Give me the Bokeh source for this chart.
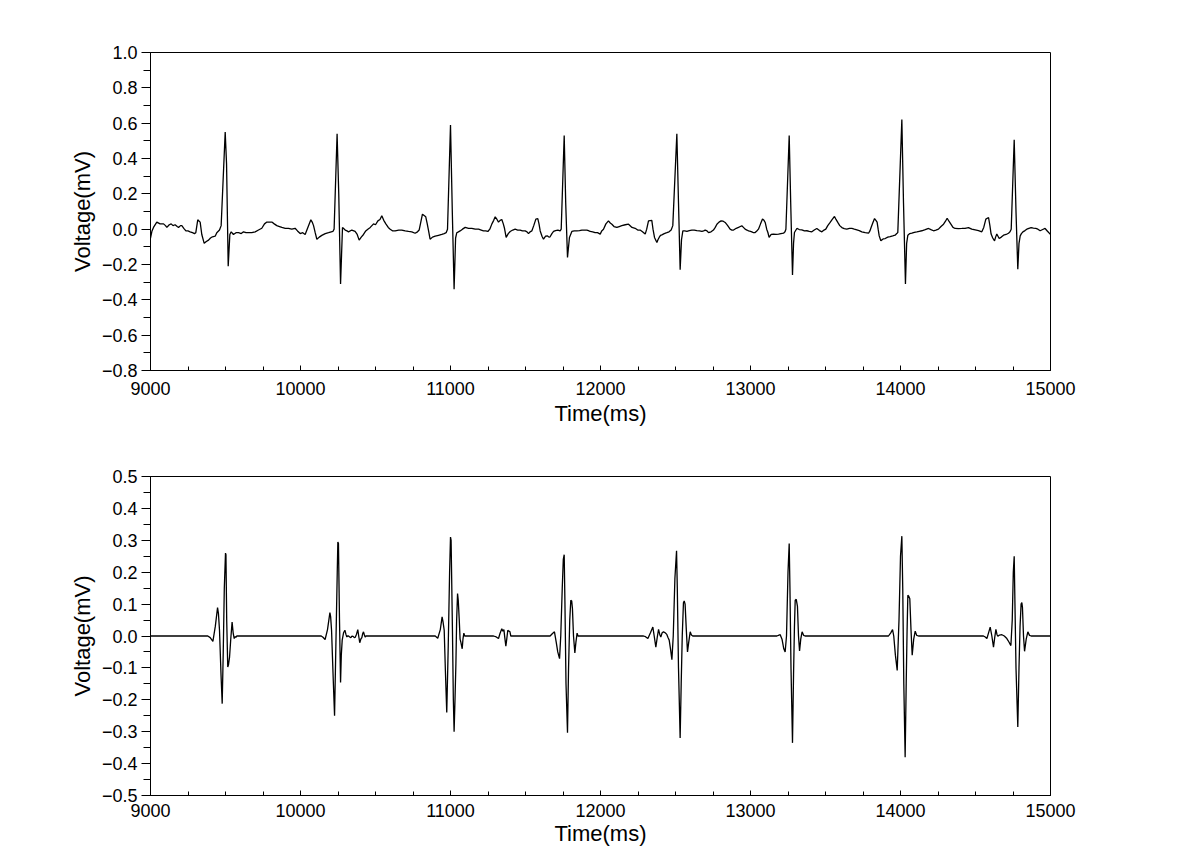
from bokeh.plotting import figure
from bokeh.layouts import column
from bokeh.models import Range1d, FixedTicker, CustomJSTickFormatter
from bokeh.embed import file_html
from bokeh.resources import INLINE

# ---------------- data ----------------
# Top panel: raw ECG, time in ms, voltage in mV
top_time = [
    9000, 9010, 9020, 9042, 9064, 9087, 9100, 9109, 9125, 9138, 9150, 9164, 9178, 9187, 9200, 9209,
    9222, 9236, 9250, 9264, 9280, 9293, 9302, 9315, 9331, 9342, 9358, 9372, 9387, 9400, 9413, 9431,
    9442, 9460, 9471, 9498, 9507, 9518, 9529, 9538, 9553, 9570, 9587, 9605, 9620, 9637, 9653, 9675,
    9698, 9720, 9742, 9760, 9776, 9792, 9809, 9825, 9842, 9860, 9876, 9898, 9920, 9942, 9964, 9980,
    9998, 10015, 10031, 10049, 10069, 10078, 10087, 10098, 10109, 10125, 10142, 10165, 10187, 10205,
    10216, 10224, 10244, 10255, 10267, 10280, 10298, 10310, 10320, 10342, 10364, 10378, 10391, 10405,
    10420, 10435, 10449, 10465, 10487, 10500, 10516, 10530, 10542, 10555, 10569, 10585, 10598, 10615,
    10631, 10655, 10675, 10698, 10720, 10742, 10764, 10780, 10791, 10813, 10835, 10845, 10853, 10864,
    10880, 10898, 10920, 10942, 10958, 10971, 10980, 11000, 11012, 11024, 11034, 11042, 11053, 11064,
    11080, 11098, 11120, 11142, 11165, 11187, 11205, 11220, 11235, 11249, 11262, 11276, 11288, 11298,
    11310, 11320, 11331, 11342, 11352, 11360, 11371, 11385, 11398, 11415, 11431, 11448, 11464, 11480,
    11498, 11510, 11520, 11531, 11542, 11555, 11569, 11582, 11590, 11598, 11610, 11620, 11634, 11647,
    11656, 11664, 11676, 11687, 11700, 11716, 11731, 11738, 11758, 11768, 11780, 11793, 11809, 11825,
    11842, 11860, 11876, 11892, 11909, 11920, 11931, 11948, 11964, 11980, 11998, 12008, 12020, 12036,
    12053, 12065, 12076, 12090, 12109, 12125, 12142, 12165, 12187, 12210, 12231, 12248, 12264, 12280,
    12298, 12308, 12320, 12342, 12350, 12360, 12376, 12383, 12391, 12400, 12409, 12425, 12442, 12457,
    12471, 12482, 12509, 12520, 12531, 12540, 12549, 12562, 12576, 12592, 12609, 12625, 12642, 12660,
    12676, 12688, 12698, 12710, 12720, 12737, 12753, 12765, 12776, 12790, 12804, 12818, 12831, 12848,
    12864, 12876, 12887, 12905, 12920, 12932, 12942, 12953, 12964, 12976, 12987, 13000, 13009, 13020,
    13031, 13042, 13053, 13067, 13080, 13090, 13098, 13108, 13116, 13124, 13138, 13153, 13170, 13187,
    13203, 13220, 13230, 13236, 13258, 13268, 13280, 13287, 13293, 13309, 13325, 13342, 13360, 13376,
    13392, 13409, 13425, 13442, 13460, 13476, 13490, 13502, 13515, 13531, 13545, 13560, 13570, 13582,
    13595, 13609, 13625, 13642, 13660, 13676, 13692, 13709, 13725, 13742, 13765, 13787, 13796, 13804,
    13815, 13827, 13836, 13844, 13851, 13858, 13869, 13884, 13898, 13915, 13931, 13948, 13964, 13975,
    13982, 14009, 14020, 14033, 14041, 14049, 14062, 14076, 14092, 14109, 14125, 14142, 14165, 14187,
    14203, 14220, 14236, 14253, 14270, 14287, 14300, 14311, 14323, 14336, 14350, 14364, 14386, 14409,
    14430, 14453, 14475, 14498, 14520, 14542, 14555, 14569, 14587, 14596, 14604, 14615, 14627, 14634,
    14642, 14650, 14658, 14672, 14687, 14704, 14720, 14730, 14738, 14758, 14770, 14782, 14790, 14798,
    14806, 14816, 14830, 14842, 14856, 14871, 14886, 14902, 14916, 14931, 14948, 14964, 14980, 14998,
    15000,
]
top_voltage = [
    -0.05, -0.01, 0.01, 0.04, 0.03, 0.03, 0.02, 0.01, 0.025, 0.03, 0.02, 0.025, 0.015, 0.01, 0.02, 0.02,
    0.005, -0.01, -0.01, -0.015, -0.02, -0.025, -0.02, 0.053, 0.04, -0.03, -0.08, -0.07, -0.062, -0.05, -0.043, -0.04,
    -0.02, -0.005, 0.02, 0.55, 0.37, -0.21, -0.03, -0.015, -0.03, -0.02, -0.02, -0.025, -0.015, -0.02, -0.02, -0.02,
    -0.015, -0.005, 0.005, 0.03, 0.04, 0.04, 0.04, 0.03, 0.02, 0.015, 0.01, 0.005, 0.005, 0.0, 0.005, -0.01,
    -0.025, -0.02, -0.03, 0.01, 0.053, 0.04, 0.02, -0.02, -0.057, -0.045, -0.035, -0.025, -0.02, -0.015,
    -0.013, 0.0, 0.54, 0.2, -0.31, 0.01, -0.005, -0.01, -0.015, -0.005, -0.013, -0.03, -0.062, -0.045,
    -0.03, -0.01, 0.0, 0.01, 0.03, 0.025, 0.047, 0.055, 0.076, 0.05, 0.03, 0.01, 0.0, -0.01,
    -0.01, -0.005, -0.005, -0.01, -0.013, -0.015, -0.023, -0.015, -0.005, 0.085, 0.07, 0.03, -0.005, -0.057,
    -0.045, -0.04, -0.035, -0.03, -0.025, -0.02, 0.0, 0.59, 0.1, -0.34, -0.05, -0.02, -0.015, -0.01,
    0.0, 0.01, 0.005, 0.005, 0.0, 0.0, -0.005, -0.01, -0.01, -0.013, 0.0, 0.03, 0.05, 0.07,
    0.055, 0.04, 0.05, 0.055, 0.03, 0.005, -0.047, -0.025, -0.013, -0.005, 0.0, -0.005, -0.005, -0.01,
    -0.01, -0.015, -0.025, -0.015, -0.01, 0.02, 0.057, 0.06, 0.03, -0.01, -0.04, -0.057, -0.04, -0.038,
    -0.045, -0.043, -0.025, -0.013, -0.008, -0.005, -0.01, 0.0, 0.53, 0.15, -0.16, -0.047, -0.013, -0.01,
    -0.01, -0.008, -0.005, -0.005, -0.005, -0.008, -0.013, -0.015, -0.02, -0.02, -0.028, -0.01, 0.0, 0.03,
    0.047, 0.035, 0.028, 0.015, 0.01, 0.015, 0.02, 0.025, 0.028, 0.01, 0.005, -0.005, -0.005, -0.015,
    -0.028, 0.0, 0.047, 0.05, 0.0, -0.047, -0.075, -0.06, -0.047, -0.035, -0.032, -0.025, -0.02, -0.015,
    -0.005, 0.02, 0.54, 0.15, -0.23, -0.06, -0.01, -0.01, -0.013, -0.008, -0.005, -0.005, -0.008, -0.01,
    -0.013, -0.01, -0.005, -0.01, -0.02, -0.015, -0.005, 0.01, 0.028, 0.04, 0.047, 0.045, 0.038, 0.02,
    0.0, -0.005, -0.005, 0.005, 0.01, 0.015, 0.019, 0.01, 0.0, -0.005, -0.01, -0.012, -0.015, -0.02,
    -0.019, -0.01, 0.0, 0.03, 0.057, 0.05, 0.038, 0.0, -0.019, -0.047, -0.03, -0.028, -0.03, -0.028,
    -0.025, -0.023, -0.015, 0.0, 0.53, 0.15, -0.26, -0.08, -0.019, 0.004, -0.002, -0.004, -0.01, -0.009,
    -0.012, -0.015, -0.005, 0.004, -0.008, -0.015, -0.005, 0.0, 0.02, 0.038, 0.055, 0.072, 0.055, 0.038,
    0.02, 0.009, 0.003, 0.0, 0.005, 0.004, 0.0, -0.004, -0.008, -0.015, -0.02, -0.023, -0.01, 0.009,
    0.035, 0.06, 0.05, 0.04, 0.0, -0.038, -0.066, -0.055, -0.053, -0.045, -0.042, -0.038, -0.034, -0.025,
    -0.019, 0.62, 0.15, -0.31, -0.08, -0.034, -0.025, -0.023, -0.018, -0.015, -0.012, -0.009, -0.003, 0.004,
    -0.003, -0.009, -0.005, 0.0, 0.015, 0.028, 0.045, 0.062, 0.045, 0.028, 0.01, 0.004, 0.003, 0.004,
    0.005, 0.009, 0.0, -0.004, -0.008, -0.015, 0.01, 0.057, 0.066, 0.02, -0.028, -0.05, -0.066, -0.045,
    -0.028, -0.04, -0.053, -0.045, -0.034, -0.03, -0.023, -0.015, 0.0, 0.506, 0.1, -0.227, -0.08, -0.038,
    -0.025, -0.015, -0.008, 0.0, 0.005, 0.009, 0.006, 0.004, 0.0, -0.009, -0.002, 0.004, -0.012, -0.028,
    -0.03,
]

# Bottom panel: filtered signal
bottom_time = [
    9000, 9382, 9398, 9416, 9432, 9447, 9453, 9460, 9470, 9478, 9485, 9492, 9500, 9503, 9508, 9515,
    9520, 9527, 9535, 9544, 9551, 9558, 9565, 9569, 9576,
    10138, 10150, 10164, 10180, 10196, 10201, 10207, 10217, 10227, 10237, 10245, 10249, 10253, 10260,
    10267, 10272, 10278, 10287, 10296, 10303, 10309, 10314, 10320, 10328, 10336, 10343, 10349, 10357,
    10364, 10373, 10382, 10388, 10395, 10402, 10409, 10415, 10420, 10426, 10431, 10437, 10442,
    10898, 10915, 10932, 10944, 10950, 10958, 10966, 10975, 10985, 10994, 11000, 11004, 11013, 11019,
    11024, 11030, 11036, 11041, 11047, 11052, 11058, 11064, 11069, 11078, 11083, 11089, 11095, 11102,
    11287, 11305, 11320, 11330, 11342, 11349, 11356, 11362, 11369, 11375, 11382, 11389, 11396, 11402, 11409,
    11664, 11680, 11693, 11705, 11715, 11727, 11735, 11745, 11752, 11758, 11763, 11770, 11780, 11787,
    11795, 11802, 11808, 11813, 11820, 11829, 11836, 11844, 11850, 11858,
    12287, 12300, 12316, 12333, 12349, 12358, 12369, 12378, 12387, 12395, 12402, 12411, 12420, 12431,
    12442, 12450, 12458, 12468, 12476, 12485, 12496, 12507, 12512, 12520, 12531, 12538, 12545, 12553,
    12558, 12564, 12572, 12580, 12588, 12598, 12606, 12615,
    13176, 13190, 13198, 13210, 13222, 13231, 13240, 13250, 13258, 13263, 13270, 13280, 13287, 13293,
    13298, 13305, 13313, 13320, 13327, 13335, 13344, 13354, 13364,
    13920, 13935, 13947, 13955, 13966, 13978, 13990, 14000, 14009, 14015, 14022, 14031, 14038, 14044,
    14049, 14055, 14062, 14070, 14078, 14088, 14098, 14108, 14120,
    14553, 14565, 14576, 14587, 14598, 14609, 14620, 14628, 14636, 14643, 14649, 14660, 14676, 14692,
    14709, 14722, 14736, 14745, 14752, 14758, 14763, 14770, 14782, 14790, 14797, 14804, 14809, 14813,
    14820, 14827, 14838, 14849, 14860, 14871, 15000,
]
bottom_voltage = [
    0.0, 0.0, -0.005, -0.017, 0.03, 0.089, 0.07, 0.018, -0.12, -0.212, -0.05, 0.15, 0.26, 0.255, 0.05, -0.097,
    -0.09, -0.066, -0.01, 0.044, 0.01, -0.008, -0.002, -0.004, 0.0,
    0.0, -0.004, -0.011, 0.02, 0.073, 0.06, 0.018, -0.12, -0.25, 0.0, 0.2, 0.295, 0.29, 0.05,
    -0.146, -0.06, -0.013, 0.01, 0.018, 0.005, -0.003, 0.0, 0.0, -0.003, -0.005, 0.0, -0.001, -0.004,
    -0.005, 0.005, 0.02, 0.0, -0.021, -0.01, -0.005, 0.008, 0.013, 0.003, -0.003, 0.0, 0.0,
    0.0, -0.007, 0.02, 0.06, 0.045, 0.018, -0.11, -0.24, -0.03, 0.2, 0.31, 0.3, 0.017, -0.2,
    -0.30, -0.2, -0.087, 0.05, 0.133, 0.11, 0.054, -0.01, -0.019, -0.04, -0.01, 0.009, 0.0, 0.0,
    0.0, -0.003, -0.008, 0.008, 0.023, 0.015, 0.02, -0.005, -0.032, -0.01, 0.018, 0.015, 0.014, 0.0, 0.0,
    0.0, 0.008, 0.013, -0.02, -0.05, -0.071, 0.0, 0.15, 0.24, 0.255, 0.1, -0.15, -0.303, -0.1,
    0.05, 0.112, 0.11, 0.085, 0.0, -0.053, -0.02, 0.009, 0.0, 0.0,
    0.0, -0.002, -0.008, 0.01, 0.028, 0.0, -0.035, -0.005, 0.021, 0.005, -0.003, 0.01, 0.013, 0.01,
    0.005, -0.005, -0.013, -0.045, -0.074, 0.0, 0.18, 0.267, 0.15, -0.1, -0.32, -0.15, 0.0, 0.104,
    0.11, 0.1, 0.02, -0.05, -0.02, 0.013, 0.003, 0.0,
    0.0, 0.003, 0.004, -0.01, -0.04, -0.05, 0.0, 0.2, 0.29, 0.15, -0.1, -0.335, -0.12, 0.03,
    0.112, 0.115, 0.093, 0.0, -0.047, -0.01, 0.013, 0.002, 0.0,
    0.0, 0.01, 0.02, 0.0, -0.06, -0.108, 0.05, 0.25, 0.313, 0.15, -0.15, -0.38, -0.15, 0.02,
    0.128, 0.125, 0.117, 0.02, -0.06, -0.01, 0.015, 0.002, 0.0,
    0.0, -0.003, -0.008, 0.01, 0.028, 0.0, -0.035, -0.005, 0.021, 0.005, -0.001, 0.003, 0.004, 0.0,
    -0.008, -0.018, -0.03, 0.05, 0.2, 0.25, 0.1, -0.1, -0.285, -0.1, 0.03, 0.1, 0.105, 0.09,
    0.0, -0.048, -0.01, 0.013, 0.002, 0.0, 0.0,
]

# Tick labels / positions
x_major_ticks = [9000, 10000, 11000, 12000, 13000, 14000, 15000]
x_minor_ticks = [9000 + 250 * i for i in range(25)]
top_y_major = [-0.8, -0.6, -0.4, -0.2, 0.0, 0.2, 0.4, 0.6, 0.8, 1.0]
top_y_minor = [-0.8 + 0.1 * i for i in range(19)]
bot_y_major = [-0.5, -0.4, -0.3, -0.2, -0.1, 0.0, 0.1, 0.2, 0.3, 0.4, 0.5]
bot_y_minor = [-0.5 + 0.05 * i for i in range(21)]

FONT = "Liberation Sans"
TICK_SIZE = "18px"
LABEL_SIZE = "22px"

fmt_js = """
let s = Math.abs(tick) < 1e-9 ? '0.0' : tick.toFixed(1);
return s.replace('-', '\u2212');
"""


def make_panel(t, v, y0, y1, ymaj, ymin, height, top_border, bottom_border,
               xlab_standoff, xtitle_standoff):
    p = figure(width=1100, height=height, output_backend="svg", toolbar_location=None,
               x_range=Range1d(9000, 15000), y_range=Range1d(y0, y1),
               min_border_left=150, min_border_right=50,
               min_border_top=top_border, min_border_bottom=bottom_border)
    p.line(t, v, line_color="black", line_width=1.3)
    p.grid.visible = False
    p.outline_line_color = "black"
    p.outline_line_width = 1
    p.background_fill_color = "white"
    p.border_fill_color = "white"

    xa = p.xaxis[0]
    xa.ticker = FixedTicker(ticks=x_major_ticks, minor_ticks=x_minor_ticks)
    xa.axis_label = "Time(ms)"
    xa.major_tick_in = 5
    xa.major_tick_out = 0
    xa.minor_tick_in = 4
    xa.minor_tick_out = 0
    xa.major_label_standoff = xlab_standoff
    xa.axis_label_standoff = xtitle_standoff

    ya = p.yaxis[0]
    ya.ticker = FixedTicker(ticks=ymaj, minor_ticks=ymin)
    ya.formatter = CustomJSTickFormatter(code=fmt_js)
    ya.axis_label = "Voltage(mV)"
    ya.major_tick_in = 0
    ya.major_tick_out = 9
    ya.minor_tick_in = 0
    ya.minor_tick_out = 7
    ya.major_label_standoff = 4
    ya.axis_label_standoff = 4

    for ax in (xa, ya):
        ax.axis_line_color = "black"
        ax.major_tick_line_color = "black"
        ax.minor_tick_line_color = "black"
        ax.major_label_text_font = FONT
        ax.major_label_text_font_size = TICK_SIZE
        ax.major_label_text_color = "black"
        ax.axis_label_text_font = FONT
        ax.axis_label_text_font_size = LABEL_SIZE
        ax.axis_label_text_font_style = "normal"
        ax.axis_label_text_color = "black"
    return p


p1 = make_panel(top_time, top_voltage, -0.8, 1.0, top_y_major, top_y_minor,
                430, 52, 60, 11, 3)
p2 = make_panel(bottom_time, bottom_voltage, -0.5, 0.5, bot_y_major, bot_y_minor,
                419, 46, 54, 8, 1)

layout = column(p1, p2, spacing=0)
open("out.html", "w").write(file_html(layout, INLINE))
